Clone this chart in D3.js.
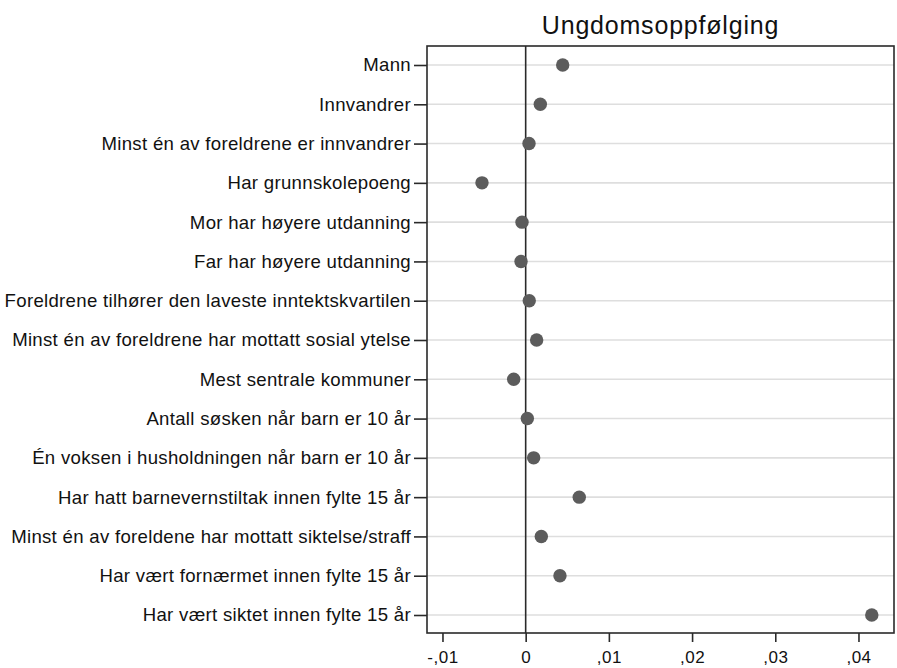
<!DOCTYPE html>
<html>
<head>
<meta charset="utf-8">
<script src="https://cdn.jsdelivr.net/npm/d3@7"></script>
<style>
  body { margin: 0; background: #fff; }
  svg text { font-family: "Liberation Sans", Arial, Helvetica, sans-serif; fill: #111; }
</style>
</head>
<body>
<div id="chart"></div>
<script>
// variable labels, top to bottom
const labels = [
  "Mann",
  "Innvandrer",
  "Minst én av foreldrene er innvandrer",
  "Har grunnskolepoeng",
  "Mor har høyere utdanning",
  "Far har høyere utdanning",
  "Foreldrene tilhører den laveste inntektskvartilen",
  "Minst én av foreldrene har mottatt sosial ytelse",
  "Mest sentrale kommuner",
  "Antall søsken når barn er 10 år",
  "Én voksen i husholdningen når barn er 10 år",
  "Har hatt barnevernstiltak innen fylte 15 år",
  "Minst én av foreldene har mottatt siktelse/straff",
  "Har vært fornærmet innen fylte 15 år",
  "Har vært siktet innen fylte 15 år"
];
// estimated coefficients
const coefs = [0.00445, 0.00176, 0.0004, -0.00525, -0.00044, -0.00056, 0.00043,
  0.00132, -0.00144, 0.0002, 0.00096, 0.00644, 0.00188, 0.00412, 0.0416];
const xTicks = [-0.01, 0, 0.01, 0.02, 0.03, 0.04];
const title = "Ungdomsoppfølging";

const W = 897, H = 668;
const margin = { top: 46, right: 3, bottom: 35, left: 427 };
const width = W - margin.left - margin.right,
  height = H - margin.top - margin.bottom;

const data = labels.map((l, i) => ({ label: l, value: coefs[i] }));

const x = d3.scaleLinear()
  .domain([-0.01186, 0.04427])
  .range([0, width]);

const y = d3.scalePoint()
  .domain(labels)
  .range([19, height - 18]);

// norwegian style: -,01  ,02
const fmt = d => d === 0 ? "0" : (d < 0 ? "-" : "") + "," + d3.format("02d")(Math.round(Math.abs(d) * 100));

const svg = d3.select("#chart").append("svg")
  .attr("width", W)
  .attr("height", H);

svg.append("text")
  .attr("x", margin.left + width / 2)
  .attr("y", 34)
  .attr("text-anchor", "middle")
  .style("font-size", "25px")
  .style("letter-spacing", "0.8px")
  .text(title);

const g = svg.append("g")
  .attr("transform", `translate(${margin.left},${margin.top})`);

// gridlines
g.selectAll(".grid")
  .data(labels)
  .enter().append("line")
  .attr("x1", 0).attr("x2", width)
  .attr("y1", d => y(d)).attr("y2", d => y(d))
  .attr("stroke", "#dedede")
  .attr("stroke-width", 1.6);

// zero line
g.append("line")
  .attr("x1", x(0)).attr("x2", x(0))
  .attr("y1", 0).attr("y2", height)
  .attr("stroke", "#2a2a2a")
  .attr("stroke-width", 1.6);

// dots
g.selectAll(".dot")
  .data(data)
  .enter().append("circle")
  .attr("cx", d => x(d.value))
  .attr("cy", d => y(d.label))
  .attr("r", 6.7)
  .attr("fill", "#5c5c5c");

// frame
g.append("rect")
  .attr("width", width)
  .attr("height", height)
  .attr("fill", "none")
  .attr("stroke", "#2a2a2a")
  .attr("stroke-width", 1.6);

const xAxis = d3.axisBottom(x)
  .tickValues(xTicks)
  .tickFormat(fmt)
  .tickSize(9)
  .tickPadding(9);

const gx = g.append("g")
  .attr("transform", `translate(0,${height})`)
  .call(xAxis);
gx.select(".domain").remove();
gx.selectAll(".tick line").attr("stroke", "#2a2a2a").attr("stroke-width", 1.6);
gx.selectAll(".tick text").style("font-size", "17px").style("letter-spacing", "0.5px");

const yAxis = d3.axisLeft(y)
  .tickSize(13)
  .tickPadding(3);

const gy = g.append("g").call(yAxis);
gy.select(".domain").remove();
gy.selectAll(".tick line").attr("stroke", "#2a2a2a").attr("stroke-width", 1.6);
gy.selectAll(".tick text").style("font-size", "18.6px").style("letter-spacing", "0.3px");
</script>
</body>
</html>
